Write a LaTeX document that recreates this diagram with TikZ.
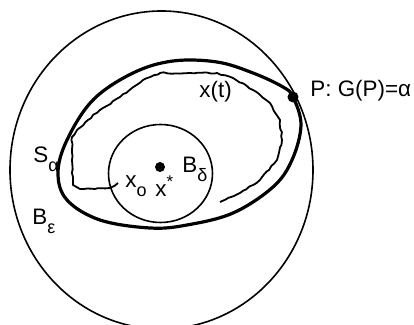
\documentclass[tikz,border=0pt]{standalone}
\usepackage{fontspec}
\setmainfont{Liberation Sans}
\usepackage{tikz}
\usetikzlibrary{positioning,decorations.pathmorphing}

\newcommand{\lsub}[2]{#1\raisebox{-0.75ex}{\fontsize{9}{9}\selectfont #2}}
\newcommand{\lsup}[2]{#1\raisebox{0.8ex}{\fontsize{8.5}{9}\selectfont #2}}

\begin{document}
\begin{tikzpicture}[
   x=0.5pt,y=-0.5pt,
   font=\fontsize{11.2}{13}\selectfont,
   ball/.style={draw,line width=0.8pt},
   level/.style={draw,line width=1.6pt},
   traj/.style={draw,line width=0.9pt,line join=round,decorate,
                decoration={random steps,segment length=2pt,amplitude=0.35pt}},
   dot/.style={circle,fill,inner sep=0pt,minimum size=#1},
   lbl/.style={inner sep=0pt,anchor=base west},
]
\useasboundingbox (0,0) rectangle (414,325);

% balls B_eps and B_delta
\draw[ball] (161.5,170) ellipse [x radius=151.5, y radius=159];
\draw[ball] (160.5,173.5) ellipse [x radius=52, y radius=49];

% level set S_alpha
\draw[level] plot[smooth cycle,tension=0.6] coordinates {
   (293,97) (301,125) (292,160) (273,187) (233,213) (187,225) (150,228)
   (100,220) (67,200) (58,173) (67,140) (93,100) (133,73) (173,61)
   (217,62) (253,73) (283,87)};

% trajectory x(t)
\coordinate (start) at (118,183);
\draw[traj] (start) -- (110,188) -- (95,189) -- (80,189) -- (73,185)
   -- (72,160) -- (72,137) -- (77,130) -- (88,120) -- (100,110) -- (120,97)
   -- (143,80) -- (160,73) -- (190,73) -- (217,73) -- (233,78) -- (253,90)
   -- (270,103) -- (280,120) -- (282,140) -- (277,160) -- (260,180)
   -- (240,193) -- (220,202);

% points
\node[dot=5pt] (xstar) at (160,167) {};
\node[dot=5.5pt] (P) at (293,97) {};

% labels
\node[lbl] (xt) at (199,98) {x(t)};
\node[lbl] (Plbl) at (310,97) {P: G(P)=α};
\node[lbl] (Sa) at (33,163) {\lsub{S}{α}};
\node[lbl] (Be) at (32,225) {\lsub{B}{ε}};
\node[lbl] (Bd) at (182,173) {\lsub{B}{δ}};
\node[lbl] (xo) at (125,188) {\lsub{x}{o}};
\node[lbl] (xs) at (155,197) {\lsup{x}{*}};

\end{tikzpicture}
\end{document}
